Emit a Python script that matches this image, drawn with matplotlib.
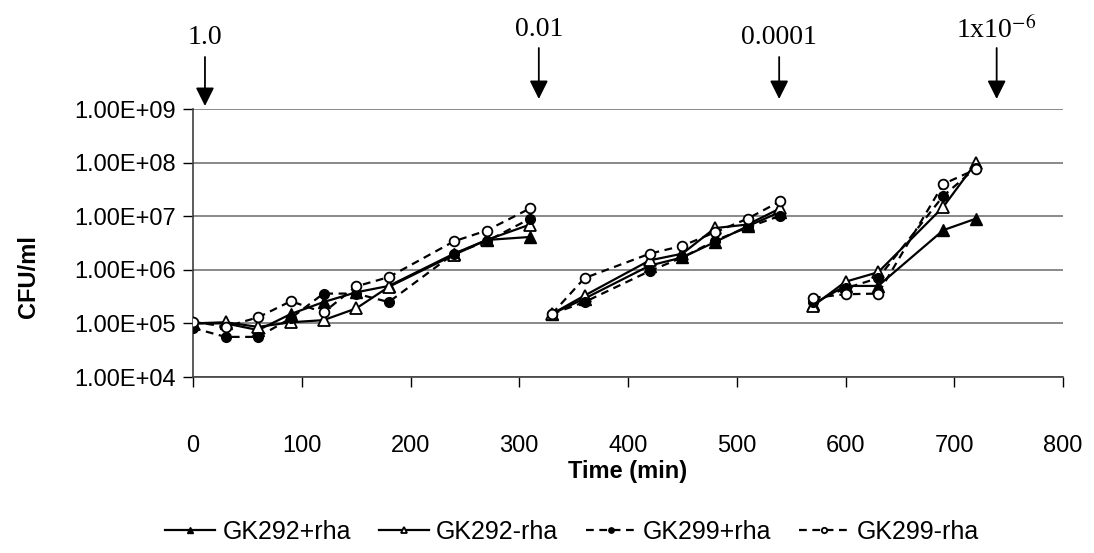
import numpy as np
import matplotlib
matplotlib.use("Agg")
import matplotlib.pyplot as plt
import matplotlib.transforms as mtransforms

plt.rcParams['font.family'] = ['Liberation Sans', 'DejaVu Sans']
plt.rcParams['mathtext.fontset'] = 'stix'

# ---- data ----
seg1_t = [0, 30, 60, 90, 120, 150, 180, 240, 270, 310]
seg2_t = [330, 360, 420, 450, 480, 510, 540]
seg3_t = [570, 600, 630, 690, 720]

gk292_plus = [[1.0e5, 1.0e5, 7.5e4, 1.5e5, 2.5e5, 3.8e5, 5.0e5, 2.0e6, 3.6e6, 4.1e6],
              [1.5e5, 2.9e5, 1.2e6, 1.7e6, 3.3e6, 6.5e6, 1.2e7],
              [2.3e5, 5.0e5, 5.0e5, 5.5e6, 9.0e6]]
gk292_minus = [[1.0e5, 1.05e5, 8.6e4, 1.05e5, 1.15e5, 1.9e5, 4.8e5, 1.9e6, 3.6e6, 7.0e6],
               [1.5e5, 3.3e5, 1.5e6, 2.0e6, 6.0e6, 7.0e6, 1.4e7],
               [2.1e5, 6.0e5, 9.0e5, 1.5e7, 1.0e8]]
gk299_plus = [[8.2e4, 5.6e4, 5.6e4, 1.25e5, 3.6e5, 3.6e5, 2.5e5, 2.0e6, 3.4e6, 9.0e6],
              [1.5e5, 2.5e5, 9.5e5, 1.7e6, 3.5e6, 6.2e6, 1.02e7],
              [2.5e5, 4.5e5, 7.0e5, 2.4e7, 8.0e7]]
gk299_minus = [[1.07e5, 8.7e4, 1.3e5, 2.6e5, 1.6e5, 4.9e5, 7.3e5, 3.4e6, 5.4e6, 1.4e7],
               [1.5e5, 7.0e5, 2.0e6, 2.8e6, 5.0e6, 9.0e6, 1.9e7],
               [3.0e5, 3.5e5, 3.6e5, 4.0e7, 7.5e7]]

series_names = ['GK292+rha', 'GK292-rha', 'GK299+rha', 'GK299-rha']
ytick_vals = [1e4, 1e5, 1e6, 1e7, 1e8, 1e9]
ytick_labels = ['1.00E+04', '1.00E+05', '1.00E+06', '1.00E+07', '1.00E+08', '1.00E+09']
xtick_vals = [0, 100, 200, 300, 400, 500, 600, 700, 800]

dilution_x = [11, 318, 539, 739]
dilution_labels = ['1.0', '0.01', '0.0001', r'1x10$^{-6}$']

# ---- figure ----
fig = plt.figure(figsize=(10.94, 5.53), dpi=100)
ax = fig.add_axes([193/1094, 1 - 377/553, (1063-193)/1094, (377-109)/553])

segments = [seg1_t, seg2_t, seg3_t]
styles = [
    dict(color='black', lw=1.6, ls='-', marker='^', ms=8, mfc='black', mec='black'),
    dict(color='black', lw=1.6, ls='-', marker='^', ms=8, mfc='white', mec='black', mew=1.3),
    dict(color='black', lw=1.6, ls=(0, (3.5, 2.5)), marker='o', ms=7, mfc='black', mec='black'),
    dict(color='black', lw=1.6, ls=(0, (3.5, 2.5)), marker='o', ms=7, mfc='white', mec='black', mew=1.3),
]
all_series = [gk292_plus, gk292_minus, gk299_plus, gk299_minus]
handles = []
for name, data, st in zip(series_names, all_series, styles):
    for i, (t, v) in enumerate(zip(segments, data)):
        ln, = ax.plot(t, v, label=name if i == 0 else None, zorder=3, **st)
        if i == 0:
            handles.append(ln)

ax.set_yscale('log')
ax.set_ylim(1e4, 1e9)
ax.set_xlim(0, 800)
ax.set_yticks(ytick_vals)
ax.set_yticklabels(ytick_labels)
ax.yaxis.set_minor_locator(matplotlib.ticker.NullLocator())
ax.set_xticks(xtick_vals)
ax.tick_params(axis='both', labelsize=17, direction='out', length=7, width=1, colors='black')
ax.tick_params(axis='x', pad=35)
ax.tick_params(axis='y', pad=5)

ax.grid(axis='y', color='#808080', lw=1.3)
ax.set_axisbelow(True)
for s in ['top', 'right']:
    ax.spines[s].set_visible(False)
for s in ['left', 'bottom']:
    ax.spines[s].set_color('#404040')
    ax.spines[s].set_linewidth(1.2)

ax.set_xlabel('Time (min)', fontsize=17, fontweight='bold', labelpad=2)
ax.set_ylabel('CFU/ml', fontsize=17, fontweight='bold')
ax.yaxis.set_label_coords(28/1094, 0.5, transform=fig.transFigure)
ax.yaxis.label.set_va('center')

# dilution arrows
trans = mtransforms.blended_transform_factory(ax.transData, fig.transFigure)
label_y = [1 - 38/553, 1 - 30/553, 1 - 38/553, 1 - 30/553]
arrow_top = [1 - 57/553, 1 - 48/553, 1 - 57/553, 1 - 48/553]
arrow_bot = [1 - 106/553, 1 - 99/553, 1 - 99/553, 1 - 99/553]
for x, lab, ly, at, ab in zip(dilution_x, dilution_labels, label_y, arrow_top, arrow_bot):
    ax.text(x, ly, lab, transform=trans, ha='center', va='center', fontsize=20,
            family=['Liberation Serif', 'DejaVu Serif'], clip_on=False)
    ax.annotate('', xy=(x, ab), xytext=(x, at), xycoords=trans, textcoords=trans,
                arrowprops=dict(arrowstyle='-|>', mutation_scale=28, lw=1.3, color='black',
                                shrinkA=0, shrinkB=0), annotation_clip=False)

fig.legend(handles, series_names, loc='center', bbox_to_anchor=(572/1094, 1 - 532/553),
           ncol=4, frameon=False, fontsize=18, handlelength=2.0, handletextpad=0.3,
           columnspacing=1.1, markerscale=0.55)

fig.savefig('out.png', dpi=100)
